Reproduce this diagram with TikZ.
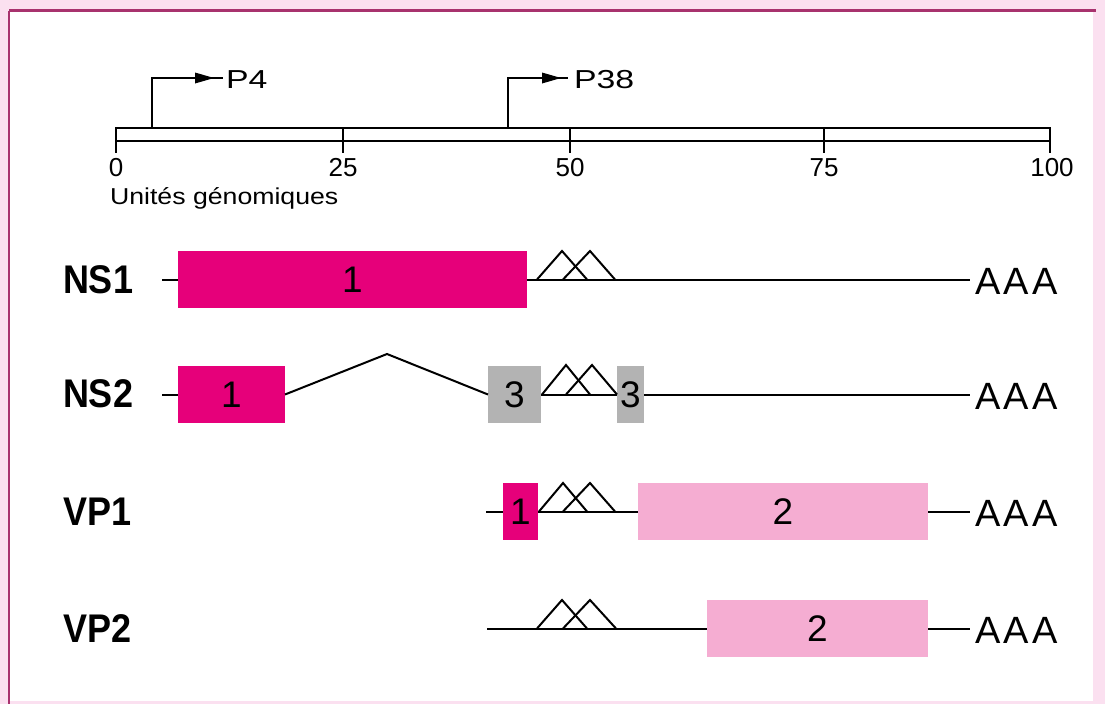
\documentclass[tikz,border=0pt]{standalone}
\usepackage{fontspec}
\usepackage{graphicx}
\setmainfont{Liberation Sans}
\definecolor{magc}{HTML}{E6007A}
\definecolor{lpink}{HTML}{F5ADD2}
\definecolor{grayc}{HTML}{B3B3B3}
\definecolor{framedark}{HTML}{A8326E}
\definecolor{framelight}{HTML}{FBE0F0}
\newcommand{\fs}[1]{\fontsize{#1}{#1}\selectfont}
\begin{document}
\begin{tikzpicture}[x=1pt,y=-1pt,
  line width=2pt,
  every node/.style={outer sep=0pt},
  exon/.style={inner sep=0pt, minimum height=57pt, anchor=north west, font=\fs{37}},
  mag/.style={fill=magc},
  lp/.style={fill=lpink},
  gr/.style={fill=grayc},
  rowlab/.style={anchor=west, inner sep=0pt, font=\fs{40}\bfseries},
  polyA/.style={anchor=west, inner sep=0pt, font=\fs{38}},
  ticklab/.style={anchor=center, inner sep=0pt, font=\fs{26}},
  prom/.style={anchor=west, inner sep=0pt, font=\fs{26}},
  intron/.style={line width=2pt, line join=miter}
]
\useasboundingbox (0,0) rectangle (1105,704);
% frame
\fill[framelight] (0,0) rectangle (1105,704);
\fill[white] (10,12) rectangle (1093,701);
\draw[framedark, line width=2.5pt] (9,10.5) -- (1096,10.5);
\draw[framedark, line width=2.5pt] (9,10.5) -- (9,704);

% scale bar
\draw[line width=2pt] (116,128) rectangle (1050,141);
\coordinate (t0) at (116,128);
\coordinate (t25) at (343,128);
\coordinate (t50) at (570,128);
\coordinate (t75) at (824,128);
\coordinate (t100) at (1050,128);
\foreach \t in {t0,t25,t50,t75,t100}{
  \draw (\t) -- ++(0,25) coordinate (\t b);
}
\node[ticklab] (l0) at (116,168) {0};
\node[ticklab] (l25) at (343,168) {25};
\node[ticklab] (l50) at (570,168) {50};
\node[ticklab] (l75) at (824,168) {75};
\node[ticklab] (l100) at (1052,168) {100};
\node[anchor=west, inner sep=0pt, font=\fs{23}] (units) at (110,198) {\scalebox{1.16}[1]{Unités génomiques}};

% promoters
\coordinate (p4base) at (152,128);
\coordinate (p4end) at (223,78);
\draw (p4base) |- (p4end);
\fill (195,72.5) -- (214,78) -- (195,83.5) -- cycle;
\node[prom] (p4) at (226,80) {\scalebox{1.3}[1]{P4}};
\coordinate (p38base) at (508,128);
\coordinate (p38end) at (568,78);
\draw (p38base) |- (p38end);
\fill (542,72.5) -- (561,78) -- (542,83.5) -- cycle;
\node[prom] (p38) at (574,80) {\scalebox{1.3}[1]{P38}};

% ---------- NS1 ----------
\node[rowlab] (ns1) at (63,280) {\scalebox{0.9}[1]{NS1}};
\node[exon, mag, minimum width=349pt] (ns1e1) at (178,251) {1};
\coordinate (ns1s) at (162,279.5);
\coordinate (ns1end) at (970,279.5);
\draw (ns1s) -- (ns1e1.west);
\draw (ns1e1.east) -- (ns1end);
\draw[intron] (537,279.5) -- (562,251) -- (587,279.5);
\draw[intron] (563,279.5) -- (590,251) -- (615,279.5);
\node[polyA] (ns1a) at (975,281) {A\kern3.5pt A\kern3.5pt A};

% ---------- NS2 ----------
\node[rowlab] (ns2) at (63,394) {\scalebox{0.9}[1]{NS2}};
\node[exon, mag, minimum width=107pt] (ns2e1) at (178,366) {1};
\node[exon, gr, minimum width=53pt] (ns2e3a) at (488,366) {3};
\node[exon, gr, minimum width=27pt] (ns2e3b) at (617,366) {3};
\coordinate (ns2s) at (162,394.5);
\coordinate (ns2peak) at (387,354);
\coordinate (ns2end) at (970,394.5);
\draw (ns2s) -- (ns2e1.west);
\draw[line join=miter] (ns2e1.east) -- (ns2peak) -- (ns2e3a.west);
\draw (ns2e3a.east) -- (ns2e3b.west);
\draw[intron] (542,394.5) -- (566,365) -- (590,394.5);
\draw[intron] (566,394.5) -- (592,365) -- (617,394.5);
\draw (ns2e3b.east) -- (ns2end);
\node[polyA] (ns2a) at (975,396) {A\kern3.5pt A\kern3.5pt A};

% ---------- VP1 ----------
\node[rowlab] (vp1) at (63,512) {\scalebox{0.9}[1]{VP1}};
\node[exon, mag, minimum width=35pt] (vp1e1) at (503,483) {1};
\node[exon, lp, minimum width=290pt] (vp1e2) at (638,483) {2};
\coordinate (vp1s) at (486,511.5);
\coordinate (vp1end) at (970,511.5);
\draw (vp1s) -- (vp1e1.west);
\draw (vp1e1.east) -- (vp1e2.west);
\draw[intron] (539,511.5) -- (563,483) -- (587,511.5);
\draw[intron] (563,511.5) -- (590,483) -- (615,511.5);
\draw (vp1e2.east) -- (vp1end);
\node[polyA] (vp1a) at (975,513) {A\kern3.5pt A\kern3.5pt A};

% ---------- VP2 ----------
\node[rowlab] (vp2) at (63,629) {\scalebox{0.9}[1]{VP2}};
\node[exon, lp, minimum width=221pt] (vp2e2) at (707,600) {2};
\coordinate (vp2s) at (487,628.5);
\coordinate (vp2end) at (970,628.5);
\draw (vp2s) -- (vp2e2.west);
\draw[intron] (537,628.5) -- (562,600) -- (587,628.5);
\draw[intron] (563,628.5) -- (590,600) -- (616,628.5);
\draw (vp2e2.east) -- (vp2end);
\node[polyA] (vp2a) at (975,630) {A\kern3.5pt A\kern3.5pt A};
\end{tikzpicture}
\end{document}
